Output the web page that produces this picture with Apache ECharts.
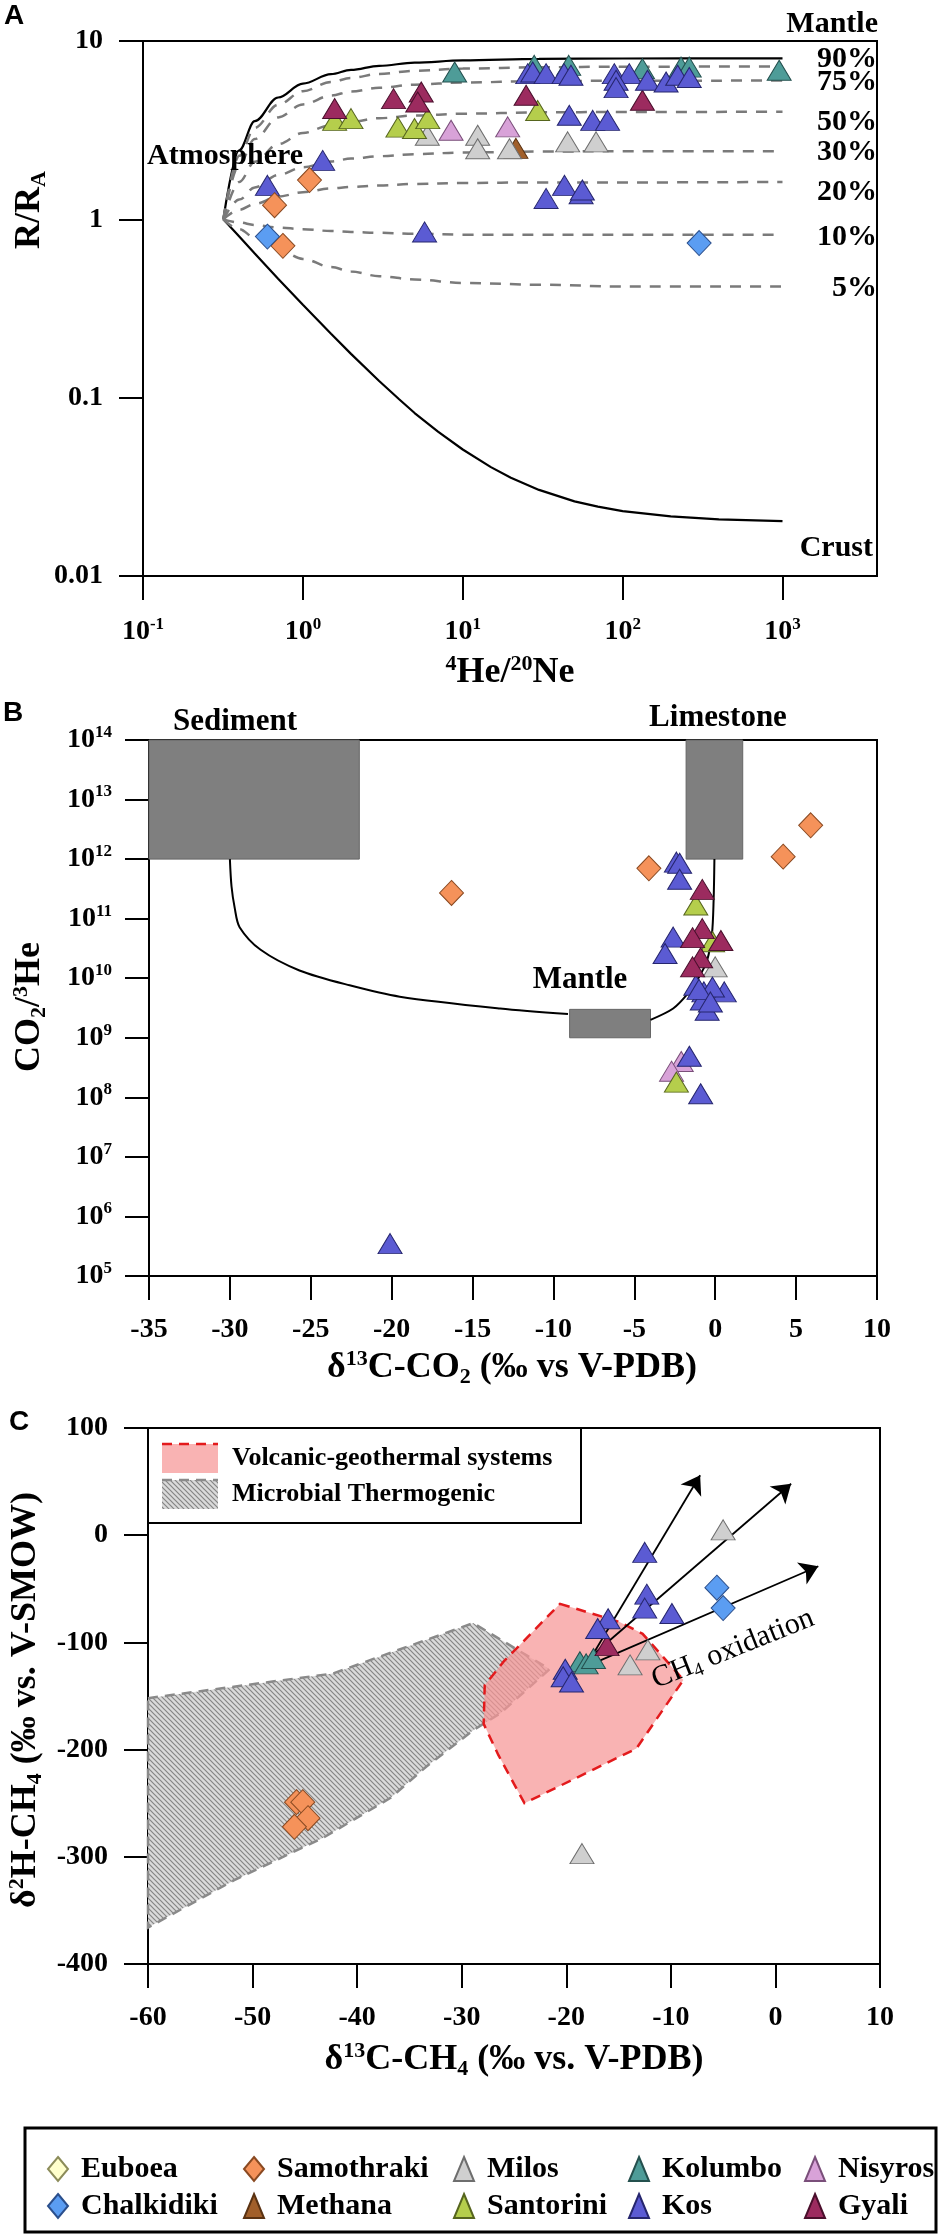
<!DOCTYPE html>
<html lang="en" style="height: 100%">
<head>
<meta charset="utf-8">
<title>He, CO2 and CH4 isotope plots</title>
</head>
<body style="height: 100%; margin: 0; background: #fff">
<div id="container" style="width: 950px; height: 2240px"></div>

<script type="text/javascript" src="https://cdn.jsdelivr.net/npm/echarts/dist/echarts.min.js"></script>

<script type="text/javascript">

var dom = document.getElementById('container');
var myChart = echarts.init(dom, null, { renderer: 'canvas' });

var option;

// ---------- Panel A: R/RA vs 4He/20Ne ----------
// mixing curves sampled along 4He/20Ne (read off the plot)
var mixHeNe = [0.318, 0.4, 0.5, 0.7, 1, 1.5, 2, 3, 5, 10, 30, 100, 1000];
var mantleRa = [1, 2.44, 3.55, 4.82, 5.77, 6.52, 6.89, 7.26, 7.56, 7.78, 7.93, 7.98, 8.0];
var mix90 = [1.0, 2.27, 3.26, 4.39, 5.23, 5.89, 6.21, 6.54, 6.81, 7.00, 7.13, 7.18, 7.20];
var mix75 = [1.0, 2.03, 2.82, 3.73, 4.41, 4.94, 5.21, 5.47, 5.69, 5.85, 5.95, 5.99, 6.00];
var mix50 = [1.0, 1.62, 2.10, 2.64, 3.05, 3.37, 3.53, 3.69, 3.82, 3.91, 3.98, 4.00, 4.01];
var mix30 = [1.0, 1.29, 1.51, 1.77, 1.96, 2.11, 2.19, 2.26, 2.32, 2.37, 2.40, 2.41, 2.41];
var mix20 = [1.0, 1.13, 1.22, 1.34, 1.42, 1.49, 1.52, 1.55, 1.58, 1.60, 1.61, 1.61, 1.62];
var mix10 = [1.0, 0.96, 0.93, 0.90, 0.88, 0.86, 0.85, 0.84, 0.83, 0.82, 0.82, 0.82, 0.82];
var mix5 = [1.0, 0.88, 0.79, 0.68, 0.60, 0.54, 0.51, 0.48, 0.46, 0.44, 0.43, 0.42, 0.42];
// crust curve has a sharper bend, so it is read at more points
var crustHeNe = [0.318, 0.4, 0.5, 0.7, 1, 1.5, 2, 3, 4, 5, 7, 10, 15, 20, 30, 50, 70, 100, 200, 400, 1000];
var crustRa = [1, 0.80, 0.643, 0.465, 0.332, 0.228, 0.176, 0.124, 0.098, 0.082, 0.0645, 0.0512,
    0.0408, 0.0356, 0.0304, 0.0262, 0.0245, 0.0231, 0.0216, 0.0208, 0.0203];

var kosA = [[1.33, 2.14], [0.60, 1.55], [5.77, 0.85], [25.5, 6.56], [27.4, 6.7], [33.2, 6.56],
    [43, 6.56], [47.5, 6.43], [88.7, 6.56], [110, 6.56], [91, 6.03], [91, 5.48], [143, 6.03],
    [187, 5.89], [221, 6.43], [261, 6.24], [46.4, 3.83], [65, 3.59], [80.5, 3.59],
    [43.3, 1.55], [33.2, 1.31], [55, 1.39], [56, 1.46]];
var gyaliA = [[1.58, 4.18], [3.69, 4.75], [5.5, 5.18], [5.23, 4.55], [24.9, 4.96], [133, 4.65]];
var santoriniA = [[1.58, 3.59], [2.0, 3.67], [3.93, 3.29], [4.99, 3.23], [6.04, 3.67], [29.4, 4.08]];
var milosA = [[6.0, 2.96], [12.4, 2.96], [12.4, 2.49], [19.6, 2.49], [45.3, 2.72], [68.2, 2.72]];
var nisyrosA = [[8.45, 3.16], [19.1, 3.3]];
var kolumboA = [[8.9, 6.7], [28, 7.3], [46, 7.3], [133, 7.0], [232, 7.14], [261, 7.14], [953, 6.85]];
var methanaA = [[21.5, 2.5]];
var samothrakiA = [[1.10, 1.66], [0.665, 1.2], [0.75, 0.71]];
var chalkidikiA = [[0.60, 0.80], [301, 0.736]];

// ---------- Panel B: CO2/3He vs d13C-CO2 ----------
var sedCurveD13C = [-30, -29.9, -29.7, -29.4, -28.1, -25.7, -22.6, -19.5, -13.3, -9.1];
var sedCurveRatio = [1e12, 3.5e11, 1.5e11, 7.2e10, 3.0e10, 1.35e10, 7.6e9, 4.9e9, 3.1e9, 2.5e9];
var limeCurveD13C = [-4.0, -2.6, -1.7, -1.0, -0.5, -0.2, -0.1, -0.05];
var limeCurveRatio = [2.0e9, 3.1e9, 5.5e9, 1.05e10, 2.0e10, 5.6e10, 2.0e11, 1e12];
var sedimentBox = [[-35, 1e12], [-22, 1e14]];
var limestoneBox = [[-1.8, 1e12], [1.7, 1e14]];
var mantleBox = [[-9, 1e9], [-4, 3e9]];

var samothrakiB = [[-16.3, 2.7e11], [-4.1, 7e11], [4.2, 1.1e12], [5.9, 3.7e12]];
var kosB = [[-2.4, 8.9e11], [-2.2, 8.5e11], [-2.2, 4.6e11], [-2.6, 4.9e10], [-3.1, 2.6e10],
    [-1.2, 7.6e9], [-0.7, 5.9e9], [0.56, 5.9e9], [-0.17, 7.1e9], [-0.8, 4.3e9], [-0.5, 2.9e9],
    [-1.0, 6.5e9], [-0.3, 4.0e9], [-1.6, 4.9e8], [-0.9, 1.15e8], [-20.1, 3.5e5]];
var gyaliB = [[-0.8, 3.1e11], [-0.8, 6.8e10], [-1.4, 4.8e10], [0.35, 4.3e10], [-0.9, 2.2e10], [-1.4, 1.55e10]];
var santoriniB = [[-1.2, 1.7e11], [-0.16, 4.1e10], [-2.4, 1.8e8]];
var milosB = [[0.0, 1.55e10]];
var nisyrosB = [[-2.1, 4.0e8], [-2.7, 2.75e8]];

// ---------- Panel C: d2H-CH4 vs d13C-CH4 ----------
var microbialPoly = [[-60, -152], [-42.3, -129], [-36.2, -107.5], [-28.9, -82], [-21.6, -125],
    [-26.3, -166], [-28.9, -182], [-33.4, -216], [-36.8, -245], [-43.2, -282], [-51.8, -322], [-60, -366]];
var volcanicPoly = [[-20.6, -64], [-14.9, -81], [-12.7, -92], [-8.8, -135], [-13.3, -199],
    [-24, -250], [-26.5, -205], [-27.9, -176], [-27.8, -140], [-26, -118]];
var oxidationArrows = [
    [[-17.5, -112], [-7.2, 56]],
    [[-17.5, -112], [1.5, 48]],
    [[-16.8, -117], [4.1, -29]]
];

var kosC = [[-12.5, -16], [-12.3, -55], [-12.5, -68], [-9.9, -73], [-16.0, -78], [-17.0, -87],
    [-20.1, -125], [-20.3, -132], [-19.5, -137]];
var gyaliC = [[-16.1, -103]];
var kolumboC = [[-18.7, -118], [-18.1, -120], [-17.4, -115]];
var milosC = [[-5.0, 5], [-12.2, -107], [-13.9, -121], [-18.5, -297]];
var chalkidikiC = [[-5.6, -49], [-5.0, -68]];
var samothrakiC = [[-45.8, -249], [-45.2, -249], [-44.7, -264], [-46.0, -272]];

// tick values
var ticksHeNe = [0.1, 1, 10, 100, 1000];
var ticksRa = [0.01, 0.1, 1, 10];
var ticksCO2He = [1e5, 1e6, 1e7, 1e8, 1e9, 1e10, 1e11, 1e12, 1e13, 1e14];

// legend layout: five columns of two
var legendCols = [['Euboea', 'Chalkidiki'], ['Samothraki', 'Methana'], ['Milos', 'Santorini'],
    ['Kolumbo', 'Kos'], ['Nisyros', 'Gyali']];
var legendLeft = [42, 238, 448, 623, 799];

var islandStyle = {
    Euboea: { symbol: 'diamond', color: '#FFFFCC', border: '#8C8C5A' },
    Chalkidiki: { symbol: 'diamond', color: '#5B9DF2', border: '#2B4F8C' },
    Samothraki: { symbol: 'diamond', color: '#F5925A', border: '#8A4A22' },
    Methana: { symbol: 'triangle', color: '#A15F2A', border: '#5A3212' },
    Milos: { symbol: 'triangle', color: '#CFCFCF', border: '#6E6E6E' },
    Santorini: { symbol: 'triangle', color: '#B5CE4C', border: '#56651E' },
    Kolumbo: { symbol: 'triangle', color: '#4E9C98', border: '#24504E' },
    Kos: { symbol: 'triangle', color: '#5B5BD3', border: '#26266E' },
    Nisyros: { symbol: 'triangle', color: '#D8A2D8', border: '#7A4F7A' },
    Gyali: { symbol: 'triangle', color: '#9C2B5F', border: '#4A0F2C' }
};

var serif = '"Liberation Serif", "Times New Roman", serif';
var sans = '"Liberation Sans", Arial, sans-serif';

// hatch pattern for the microbial/thermogenic field
var hatchCanvas = document.createElement('canvas');
hatchCanvas.width = 5;
hatchCanvas.height = 5;
var hc = hatchCanvas.getContext('2d');
hc.fillStyle = '#dadada';
hc.fillRect(0, 0, 5, 5);
hc.strokeStyle = '#858585';
hc.lineWidth = 1.2;
hc.beginPath();
hc.moveTo(-1, -1); hc.lineTo(6, 6);
hc.moveTo(-1, 4); hc.lineTo(1, 6);
hc.moveTo(4, -1); hc.lineTo(6, 1);
hc.stroke();
var hatch = { image: hatchCanvas, repeat: 'repeat' };
var pinkFill = 'rgba(247,150,150,0.72)';

var tickRich = {
    n: { fontSize: 28, fontWeight: 'bold', fontFamily: serif, color: '#000', lineHeight: 32 },
    sup: { fontSize: 17, fontWeight: 'bold', fontFamily: serif, color: '#000', lineHeight: 17, verticalAlign: 'top' }
};
var titleRich = {
    n: { fontSize: 36, fontWeight: 'bold', fontFamily: serif, color: '#000', lineHeight: 40 },
    sup: { fontSize: 22, fontWeight: 'bold', fontFamily: serif, color: '#000', lineHeight: 22, verticalAlign: 'top' },
    sub: { fontSize: 22, fontWeight: 'bold', fontFamily: serif, color: '#000', lineHeight: 22, verticalAlign: 'bottom' }
};

function powLabel(v) {
    return '{n|10}{sup|' + Math.round(Math.log10(v)) + '}';
}

function pairs(xs, ys) {
    return xs.map(function (x, i) { return [x, ys[i]]; });
}

function axisBase(idx, extra) {
    var a = {
        gridIndex: idx,
        splitLine: { show: false },
        axisLine: { show: true, onZero: false, lineStyle: { color: '#000', width: 2 } },
        axisTick: { show: true, inside: false, length: 24, lineStyle: { color: '#000', width: 2 } },
        axisLabel: { margin: 40, color: '#000', fontSize: 28, fontWeight: 'bold', fontFamily: serif, rich: tickRich }
    };
    for (var k in extra) {
        if (k === 'axisLabel' || k === 'axisTick') {
            for (var j in extra[k]) a[k][j] = extra[k][j];
        } else {
            a[k] = extra[k];
        }
    }
    return a;
}

function islandSeries(name, data, idx) {
    var s = islandStyle[name];
    return {
        name: name,
        type: 'scatter',
        xAxisIndex: idx,
        yAxisIndex: idx,
        data: data,
        symbol: s.symbol,
        symbolSize: s.symbol === 'diamond' ? [24, 25] : [24, 20],
        itemStyle: { color: s.color, borderColor: s.border, borderWidth: 1, opacity: 1 },
        silent: true,
        z: 5
    };
}

function curveA(xs, ys, dashed, smooth) {
    return {
        type: 'line',
        xAxisIndex: 0,
        yAxisIndex: 0,
        data: pairs(xs, ys),
        symbol: 'none',
        smooth: smooth,
        smoothMonotone: 'x',
        silent: true,
        lineStyle: dashed
            ? { color: '#7a7a7a', width: 2.5, type: [11, 9] }
            : { color: '#000', width: 2.2, type: 'solid' },
        z: 2
    };
}

function polySeries(vertices, style) {
    return {
        type: 'custom',
        xAxisIndex: 2,
        yAxisIndex: 2,
        data: vertices,
        silent: true,
        z: 1,
        renderItem: function (params, api) {
            if (params.dataIndex !== 0) return;
            return {
                type: 'polygon',
                shape: { points: vertices.map(function (p) { return api.coord(p); }) },
                style: style
            };
        }
    };
}

function txt(text, x, y, o) {
    o = o || {};
    return {
        type: 'text',
        x: x,
        y: y,
        rotation: o.rotation || 0,
        z: 10,
        silent: true,
        style: {
            text: text,
            fill: '#000',
            fontSize: o.size || 30,
            fontWeight: o.weight || 'bold',
            fontFamily: o.family || serif,
            align: o.align || 'center',
            verticalAlign: 'middle',
            rich: o.rich
        }
    };
}

var series = [
    curveA(mixHeNe, mantleRa, false, 0.35),
    curveA(crustHeNe, crustRa, false, false),
    curveA(mixHeNe, mix90, true, 0.35),
    curveA(mixHeNe, mix75, true, 0.35),
    curveA(mixHeNe, mix50, true, 0.35),
    curveA(mixHeNe, mix30, true, 0.35),
    curveA(mixHeNe, mix20, true, 0.35),
    curveA(mixHeNe, mix10, true, 0.35),
    curveA(mixHeNe, mix5, true, 0.35),
    islandSeries('Euboea', [], 0),
    islandSeries('Methana', methanaA, 0),
    islandSeries('Milos', milosA, 0),
    islandSeries('Nisyros', nisyrosA, 0),
    islandSeries('Santorini', santoriniA, 0),
    islandSeries('Gyali', gyaliA, 0),
    islandSeries('Kolumbo', kolumboA, 0),
    islandSeries('Kos', kosA, 0),
    islandSeries('Samothraki', samothrakiA, 0),
    islandSeries('Chalkidiki', chalkidikiA, 0),

    {
        type: 'line',
        xAxisIndex: 1,
        yAxisIndex: 1,
        data: pairs(sedCurveD13C, sedCurveRatio).concat([[null, null]], pairs(limeCurveD13C, limeCurveRatio)),
        connectNulls: false,
        symbol: 'none',
        smooth: 0.3,
        silent: true,
        lineStyle: { color: '#000', width: 2 },
        z: 2,
        markArea: {
            silent: true,
            itemStyle: { color: '#7f7f7f', borderColor: '#666', borderWidth: 1, opacity: 1 },
            data: [
                [{ coord: sedimentBox[0] }, { coord: sedimentBox[1] }],
                [{ coord: limestoneBox[0] }, { coord: limestoneBox[1] }],
                [{ coord: mantleBox[0] }, { coord: mantleBox[1] }]
            ]
        }
    },
    islandSeries('Samothraki', samothrakiB, 1),
    islandSeries('Nisyros', nisyrosB, 1),
    islandSeries('Santorini', santoriniB, 1),
    islandSeries('Milos', milosB, 1),
    islandSeries('Kos', kosB, 1),
    islandSeries('Gyali', gyaliB, 1),

    polySeries(microbialPoly, { fill: hatch, stroke: '#8a8a8a', lineWidth: 2.5, lineDash: [10, 7] }),
    polySeries(volcanicPoly, { fill: pinkFill, stroke: '#e31a1c', lineWidth: 2.5, lineDash: [10, 7] }),
    {
        type: 'scatter',
        xAxisIndex: 2,
        yAxisIndex: 2,
        data: [],
        silent: true,
        z: 3,
        markLine: {
            silent: true,
            symbol: ['none', 'arrow'],
            symbolSize: 18,
            label: { show: false },
            lineStyle: { color: '#000', width: 1.8, type: 'solid' },
            itemStyle: { color: '#000' },
            data: oxidationArrows.map(function (a) {
                return [{ coord: a[0] }, { coord: a[1] }];
            })
        }
    },
    islandSeries('Samothraki', samothrakiC, 2),
    islandSeries('Milos', milosC, 2),
    islandSeries('Kolumbo', kolumboC, 2),
    islandSeries('Gyali', gyaliC, 2),
    islandSeries('Kos', kosC, 2),
    islandSeries('Chalkidiki', chalkidikiC, 2)
];

var graphics = [
    // panel letters
    txt('A', 4, 16, { family: sans, size: 28, align: 'left' }),
    txt('B', 3, 713, { family: sans, size: 28, align: 'left' }),
    txt('C', 9, 1422, { family: sans, size: 28, align: 'left' }),
    // panel A annotations
    txt('Mantle', 878, 24, { align: 'right' }),
    txt('Atmosphere', 147, 156, { align: 'left' }),
    txt('Crust', 873, 548, { align: 'right' }),
    txt('90%', 877, 59, { align: 'right' }),
    txt('75%', 877, 82, { align: 'right' }),
    txt('50%', 877, 122, { align: 'right' }),
    txt('30%', 877, 152, { align: 'right' }),
    txt('20%', 877, 192, { align: 'right' }),
    txt('10%', 877, 237, { align: 'right' }),
    txt('5%', 877, 288, { align: 'right' }),
    // panel B annotations
    txt('Sediment', 235, 722, { size: 31 }),
    txt('Limestone', 718, 718, { size: 31 }),
    txt('Mantle', 580, 980, { size: 31 }),
    // axis titles
    txt('{sup|4}{n|He/}{sup|20}{n|Ne}', 510, 673, { rich: titleRich }),
    txt('{n|R/R}{sub|A}', 30, 210, { rich: titleRich, rotation: Math.PI / 2 }),
    txt('{n|δ}{sup|13}{n|C-CO}{sub|2}{n| (‰ vs V-PDB)}', 512, 1368, { rich: titleRich }),
    txt('{n|CO}{sub|2}{n|/}{sup|3}{n|He}', 30, 1007, { rich: titleRich, rotation: Math.PI / 2 }),
    txt('{n|δ}{sup|13}{n|C-CH}{sub|4}{n| (‰ vs. V-PDB)}', 514, 2060, { rich: titleRich }),
    txt('{n|δ}{sup|2}{n|H-CH}{sub|4}{n| (‰ vs. V-SMOW)}', 26, 1700, { rich: titleRich, rotation: Math.PI / 2 }),
    // CH4 oxidation label
    txt('{n|CH}{sub|4}{n| oxidation}', 733, 1649, {
        rotation: 0.38,
        rich: {
            n: { fontSize: 30, fontFamily: serif, color: '#000', lineHeight: 34 },
            sub: { fontSize: 19, fontFamily: serif, color: '#000', lineHeight: 19, verticalAlign: 'bottom' }
        }
    }),
    // panel C field legend
    {
        type: 'rect', z: 9, silent: true,
        shape: { x: 148, y: 1428, width: 433, height: 95 },
        style: { fill: '#fff', stroke: '#000', lineWidth: 2 }
    },
    {
        type: 'rect', z: 10, silent: true,
        shape: { x: 162, y: 1444, width: 56, height: 29 },
        style: { fill: pinkFill, stroke: null }
    },
    {
        type: 'line', z: 10, silent: true,
        shape: { x1: 162, y1: 1444, x2: 218, y2: 1444 },
        style: { stroke: '#e31a1c', lineWidth: 2.5, lineDash: [10, 7] }
    },
    {
        type: 'rect', z: 10, silent: true,
        shape: { x: 162, y: 1480, width: 56, height: 29 },
        style: { fill: hatch, stroke: null }
    },
    {
        type: 'line', z: 10, silent: true,
        shape: { x1: 162, y1: 1480, x2: 218, y2: 1480 },
        style: { stroke: '#8a8a8a', lineWidth: 2.5, lineDash: [10, 7] }
    },
    txt('Volcanic-geothermal systems', 232, 1458, { size: 26, align: 'left' }),
    txt('Microbial Thermogenic', 232, 1494, { size: 26, align: 'left' }),
    // frame of bottom legend
    {
        type: 'rect', z: 9, silent: true,
        shape: { x: 25, y: 2128, width: 911, height: 104 },
        style: { fill: null, stroke: '#000', lineWidth: 3 }
    }
];

option = {
    animation: false,
    backgroundColor: '#fff',
    grid: [
        { left: 143, top: 41, width: 734, height: 535, show: true, borderColor: '#000', borderWidth: 2, outerBoundsMode: 'none', containLabel: false },
        { left: 149, top: 740, width: 728, height: 536, show: true, borderColor: '#000', borderWidth: 2, outerBoundsMode: 'none', containLabel: false },
        { left: 148, top: 1428, width: 732, height: 536, show: true, borderColor: '#000', borderWidth: 2, outerBoundsMode: 'none', containLabel: false }
    ],
    xAxis: [
        axisBase(0, {
            type: 'log', logBase: 10, min: 0.1, max: 3900,
            axisLabel: { customValues: ticksHeNe, formatter: powLabel },
            axisTick: { customValues: ticksHeNe }
        }),
        axisBase(1, { type: 'value', min: -35, max: 10, interval: 5 }),
        axisBase(2, { type: 'value', min: -60, max: 10, interval: 10 })
    ],
    yAxis: [
        axisBase(0, {
            type: 'log', logBase: 10, min: 0.01, max: 10,
            axisLabel: {
                customValues: ticksRa,
                formatter: function (v) { return '{n|' + Number(v.toPrecision(2)) + '}'; }
            },
            axisTick: { customValues: ticksRa }
        }),
        axisBase(1, {
            type: 'log', logBase: 10, min: 1e5, max: 1e14,
            axisLabel: { customValues: ticksCO2He, formatter: powLabel, margin: 37 },
            axisTick: { customValues: ticksCO2He }
        }),
        axisBase(2, {
            type: 'value', min: -400, max: 100, interval: 100,
            axisLabel: { formatter: function (v) { return '{n|' + v + '}'; } }
        })
    ],
    legend: legendCols.map(function (col, i) {
        return {
            orient: 'vertical',
            left: legendLeft[i],
            top: 2148,
            data: col,
            itemWidth: 20,
            itemHeight: 24,
            itemGap: 5,
            selectedMode: false,
            textStyle: { color: '#000', fontSize: 30, fontWeight: 'bold', fontFamily: serif, lineHeight: 32, padding: [0, 0, 0, 8] }
        };
    }),
    graphic: graphics,
    series: series
};

if (option && typeof option === 'object') {
    myChart.setOption(option);
}

window.addEventListener('resize', myChart.resize);
</script>
</body>
</html>
